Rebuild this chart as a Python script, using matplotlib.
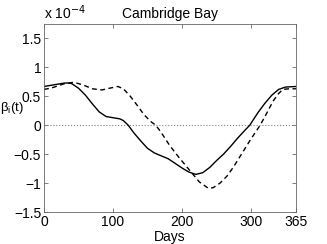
import numpy as np
from matplotlib import pyplot as plt

plt.rcParams["font.family"] = ["Liberation Sans", "DejaVu Sans"]

# values in units of 1e-4
solid_days = [0, 10, 20, 30, 35, 40, 50, 60, 70, 80, 90, 100, 110, 115, 122,
              130, 140, 150, 160, 170, 180, 190, 200, 210, 220, 230, 240, 250,
              260, 270, 280, 290, 298, 310, 320, 330, 340, 350, 365]
solid_vals = [0.67, 0.69, 0.71, 0.73, 0.73, 0.72, 0.64, 0.52, 0.37, 0.23, 0.15,
              0.13, 0.11, 0.08, 0.0, -0.13, -0.27, -0.40, -0.48, -0.53, -0.58,
              -0.66, -0.74, -0.81, -0.85, -0.82, -0.73, -0.61, -0.50, -0.37,
              -0.23, -0.10, 0.0, 0.22, 0.38, 0.52, 0.62, 0.66, 0.67]

dashed_days = [0, 10, 20, 30, 42, 50, 60, 70, 84, 95, 107, 115, 125, 134, 145,
               155, 162, 170, 182, 195, 211, 225, 238, 245, 255, 265, 274, 285,
               298, 313, 320, 332, 340, 346, 355, 365]
dashed_vals = [0.62, 0.64, 0.68, 0.72, 0.74, 0.72, 0.68, 0.63, 0.61, 0.64, 0.67,
               0.63, 0.50, 0.36, 0.18, 0.06, 0.0, -0.13, -0.35, -0.55, -0.78,
               -0.98, -1.09, -1.08, -1.0, -0.88, -0.73, -0.52, -0.27, 0.0, 0.15,
               0.42, 0.55, 0.62, 0.63, 0.63]

xticks = [0, 100, 200, 300, 365]
yticks = [-1.5, -1, -0.5, 0, 0.5, 1, 1.5]
ytick_labels = ["\u22121.5", "\u22121", "\u22120.5", "0", "0.5", "1", "1.5"]

fig = plt.figure(figsize=(3.27, 2.44), dpi=100)
ax = fig.add_axes([44 / 327, 1 - 212 / 244, 252 / 327, 188 / 244])

ax.axhline(0, color="0.5", linestyle=":", linewidth=0.8)
ax.plot(solid_days, solid_vals, color="black", linewidth=1.0)
ax.plot(dashed_days, dashed_vals, color="black", linewidth=1.0,
        linestyle=(0, (3.5, 2.5)))

ax.set_xlim(0, 365)
ax.set_ylim(-1.5, 1.75)
ax.set_xticks(xticks)
ax.set_yticks(yticks)
ax.set_yticklabels(ytick_labels)
ax.tick_params(direction="in", top=True, right=True, length=3, width=0.5,
               labelsize=10, pad=2, color="0.3")
for s in ax.spines.values():
    s.set_linewidth(0.6)
    s.set_color("0.4")

ax.set_title("Cambridge Bay", fontsize=10, pad=4)
ax.set_xlabel("Days", fontsize=10, labelpad=1)
ax.text(0.0, 1.01, r"x 10$^{-4}$", transform=ax.transAxes, fontsize=10,
        ha="left", va="bottom")
fig.text(0 / 327, 1 - 108 / 244, r"$\mathregular{\beta_i(t)}$", fontsize=9.5,
         ha="left", va="center")

fig.savefig("out.png", dpi=100)
